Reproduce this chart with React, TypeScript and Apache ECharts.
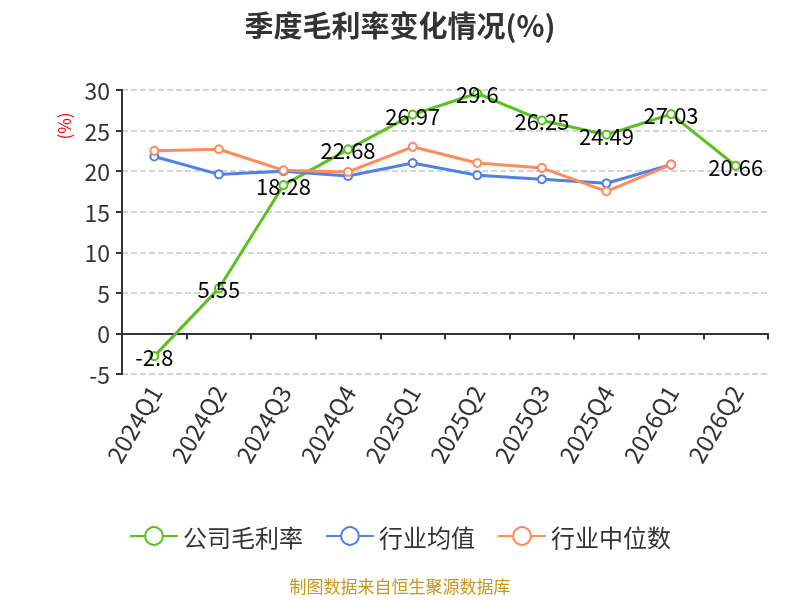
import React, { useEffect, useRef } from "react";
import * as echarts from "echarts";

const categories = ["2024Q1", "2024Q2", "2024Q3", "2024Q4", "2025Q1", "2025Q2", "2025Q3", "2025Q4", "2026Q1", "2026Q2"];
const companyMargin = [-2.8, 5.55, 18.28, 22.68, 26.97, 29.6, 26.25, 24.49, 27.03, 20.66];
const industryAvg = [21.8, 19.6, 20.0, 19.4, 21.0, 19.5, 19.0, 18.5, 20.8, null];
const industryMedian = [22.5, 22.7, 20.1, 19.9, 23.0, 21.0, 20.4, 17.5, 20.8, null];

export default function App() {
  const ref = useRef<HTMLDivElement>(null);
  useEffect(() => {
    if (!ref.current) return;
    const chart = echarts.init(ref.current, null, { renderer: "svg" });
    const font = "'Noto Sans CJK SC', 'Noto Sans', sans-serif";
    const mk = (name: string, data: (number | null)[], color: string, extra: object = {}) => ({
      name,
      type: "line",
      data,
      symbol: "emptyCircle",
      symbolSize: 8,
      itemStyle: { color, borderColor: color, borderWidth: 2 },
      lineStyle: { width: 3, color },
      ...extra,
    });
    chart.setOption({
      animation: false,
      textStyle: { fontFamily: font },
      title: {
        text: "季度毛利率变化情况(%)",
        left: "center",
        top: 4,
        textStyle: { fontSize: 29, fontWeight: "bold", color: "#333", fontFamily: font },
      },
      grid: { left: 122, right: 32, top: 90, bottom: 226 },
      legend: {
        top: 519,
        left: "center",
        itemWidth: 48,
        itemHeight: 22,
        itemGap: 22,
        textStyle: { fontSize: 24, color: "#333", fontFamily: font },
        data: ["公司毛利率", "行业均值", "行业中位数"],
      },
      graphic: [
        {
          type: "text",
          left: "center",
          top: 577,
          style: { text: "制图数据来自恒生聚源数据库", fill: "#c8961e", fontSize: 17, fontFamily: font },
        },
        {
          type: "text",
          x: 63,
          y: 126,
          rotation: Math.PI / 2,
          style: {
            text: "(%)",
            fill: "#ff0000",
            fontSize: 17,
            fontFamily: font,
            textAlign: "center",
            textVerticalAlign: "middle",
          },
        },
      ],
      xAxis: {
        type: "category",
        data: categories,
        boundaryGap: true,
        axisLine: { onZero: true, lineStyle: { color: "#333", width: 2 } },
        axisTick: { show: true, alignWithLabel: false, length: 6, lineStyle: { color: "#333", width: 2 } },
        axisLabel: { rotate: 60, fontSize: 24, color: "#333", margin: 13, fontFamily: font },
      },
      yAxis: {
        type: "value",
        min: -5,
        max: 30,
        interval: 5,
        axisLine: { show: true, lineStyle: { color: "#333", width: 2 } },
        axisTick: { show: true, length: 6, lineStyle: { color: "#333", width: 2 } },
        axisLabel: { fontSize: 23, color: "#333", margin: 12, fontFamily: font },
        splitLine: { lineStyle: { type: "dashed", color: "#c8c8c8", width: 1.5 } },
      },
      series: [
        mk("公司毛利率", companyMargin, "#5ac21f", {
          z: 3,
          label: { show: true, position: "inside", fontSize: 22, color: "#000", fontFamily: font },
        }),
        mk("行业均值", industryAvg, "#4f81e6"),
        mk("行业中位数", industryMedian, "#ff8a5b"),
      ],
    });
    return () => chart.dispose();
  }, []);
  return <div ref={ref} style={{ position: "fixed", left: 0, top: 0, width: 800, height: 600 }} />;
}
